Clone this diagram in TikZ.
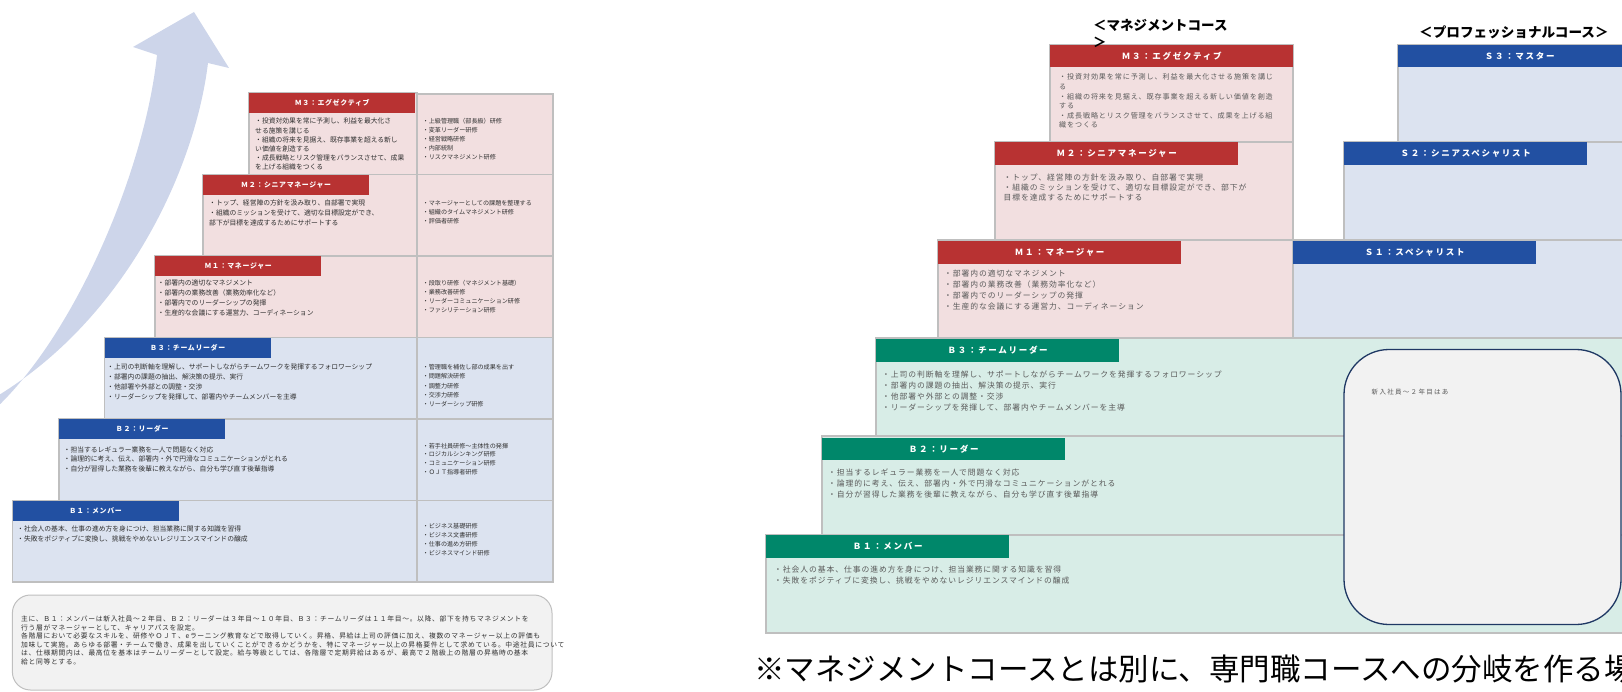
\documentclass[tikz,border=0pt]{standalone}
\usepackage{fontspec}
\setmainfont{Noto Sans CJK JP}
\newfontfamily\jpa[LetterSpace=10]{Noto Sans CJK JP}
\newfontfamily\jpb[LetterSpace=12]{Noto Sans CJK JP}
\newfontfamily\jpc[LetterSpace=20]{Noto Sans CJK JP}
\definecolor{redH}{HTML}{B83232}
\definecolor{pinkB}{HTML}{F2DFE0}
\definecolor{blueH}{HTML}{2250A2}
\definecolor{blueB}{HTML}{DCE3F0}
\definecolor{tealH}{HTML}{00876A}
\definecolor{tealB}{HTML}{D8EDE7}
\definecolor{gridc}{HTML}{BFBFBF}
\definecolor{ltext}{HTML}{303030}
\definecolor{rtext}{HTML}{5A5A5A}
\definecolor{arrowc}{HTML}{CDD5EA}
\definecolor{noteF}{HTML}{F2F2F2}
\definecolor{navy}{HTML}{1F3864}
\tikzset{
 lhd/.style={anchor=north west, inner sep=0pt, minimum width=166pt, minimum height=20pt, text=white, font=\jpa\fontsize{6.9}{8}\selectfont\bfseries},
 rhd/.style={anchor=north west, inner sep=0pt, minimum width=243pt, minimum height=22.5pt, text=white, font=\jpc\fontsize{8.5}{10}\selectfont\bfseries},
 ltx/.style={anchor=north west, inner sep=0pt, align=left, text=ltext},
 rtx/.style={anchor=north west, inner sep=0pt, align=left, text=rtext},
 cell/.style={draw=gridc, line width=1.5pt},
}
\begin{document}
\begin{tikzpicture}[x=1pt,y=-1pt]
\useasboundingbox (0,0) rectangle (1622,692);
% ---------- curved arrow ----------
\fill[arrowc] (-6,410) .. controls (75,335) and (145,170) .. (157,55)
  -- (133,47) -- (194,12) -- (229,68) -- (208,63)
  .. controls (195,170) and (125,320) .. (-6,398) -- cycle;
% ---------- left table ----------
\path[cell,fill=pinkB] (249,93) rectangle (417,174.5);
\path[cell,fill=pinkB] (417,94) rectangle (553,174.5);
\path[cell,fill=pinkB] (203,174.5) rectangle (417,256);
\path[cell,fill=pinkB] (417,174.5) rectangle (553,256);
\path[cell,fill=pinkB] (155,256) rectangle (417,337.5);
\path[cell,fill=pinkB] (417,256) rectangle (553,337.5);
\path[cell,fill=blueB] (104.5,337.5) rectangle (417,419);
\path[cell,fill=blueB] (417,337.5) rectangle (553,419);
\path[cell,fill=blueB] (59,419) rectangle (417,500.5);
\path[cell,fill=blueB] (417,419) rectangle (553,500.5);
\path[cell,fill=blueB] (12.4,500.5) rectangle (417,582);
\path[cell,fill=blueB] (417,500.5) rectangle (553,582);
\node[lhd,fill=redH] (lm3) at (249,93) {Ｍ３：エグゼクティブ};
\node[lhd,fill=redH] (lm2) at (203,174.5) {Ｍ２：シニアマネージャー};
\node[lhd,fill=redH] (lm1) at (155,256) {Ｍ１：マネージャー};
\node[lhd,fill=blueH] (lb3) at (104.5,337.5) {Ｂ３：チームリーダー};
\node[lhd,fill=blueH] (lb2) at (59,419) {Ｂ２：リーダー};
\node[lhd,fill=blueH] (lb1) at (12.4,500.5) {Ｂ１：メンバー};
% left body texts
\node[ltx,font=\fontsize{6.8}{9.1}\selectfont] (lm3t) at (255,118) {・投資対効果を常に予測し、利益を最大化さ\\せる施策を講じる\\・組織の将来を見据え、既存事業を超える新し\\い価値を創造する\\・成長戦略とリスク管理をバランスさせて、成果\\を上げる組織をつくる};
\node[ltx,font=\fontsize{6.1}{9}\selectfont] (lm3r) at (422.5,118.3) {・上級管理職（部長級）研修\\・変革リーダー研修\\・経営戦略研修\\・内部統制\\・リスクマネジメント研修};
\node[ltx,font=\fontsize{6.8}{10}\selectfont] (lm2t) at (209,200) {・トップ、経営陣の方針を汲み取り、自部署で実現\\・組織のミッションを受けて、適切な目標設定ができ、\\部下が目標を達成するためにサポートする};
\node[ltx,font=\fontsize{6.1}{9}\selectfont] (lm2r) at (422.5,200.3) {・マネージャーとしての課題を整理する\\・組織のタイムマネジメント研修\\・評価者研修};
\node[ltx,font=\fontsize{6.8}{10}\selectfont] (lm1t) at (157.5,279.4) {・部署内の適切なマネジメント\\・部署内の業務改善（業務効率化など）\\・部署内でのリーダーシップの発揮\\・生産的な会議にする運営力、コーディネーション};
\node[ltx,font=\fontsize{6.1}{9.2}\selectfont] (lm1r) at (422.5,279.8) {・段取り研修（マネジメント基礎）\\・業務改善研修\\・リーダーコミュニケーション研修\\・ファシリテーション研修};
\node[ltx,font=\fontsize{6.8}{9.8}\selectfont] (lb3t) at (107,364) {・上司の判断軸を理解し、サポートしながらチームワークを発揮するフォロワーシップ\\・部署内の課題の抽出、解決策の提示、実行\\・他部署や外部との調整・交渉\\・リーダーシップを発揮して、部署内やチームメンバーを主導};
\node[ltx,font=\fontsize{6.1}{9.2}\selectfont] (lb3r) at (422.5,364.3) {・管理職を補佐し部の成果を出す\\・問題解決研修\\・調整力研修\\・交渉力研修\\・リーダーシップ研修};
\node[ltx,font=\fontsize{6.8}{9.4}\selectfont] (lb2t) at (63.5,446.4) {・担当するレギュラー業務を一人で問題なく対応\\・論理的に考え、伝え、部署内・外で円滑なコミュニケーションがとれる\\・自分が習得した業務を後輩に教えながら、自分も学び直す後輩指導};
\node[ltx,font=\fontsize{6.1}{8.7}\selectfont] (lb2r) at (422.5,442.8) {・若手社員研修～主体性の発揮\\・ロジカルシンキング研修\\・コミュニケーション研修\\・ＯＪＴ指導者研修};
\node[ltx,font=\fontsize{6.8}{9.7}\selectfont] (lb1t) at (17,526) {・社会人の基本、仕事の進め方を身につけ、担当業務に関する知識を習得\\・失敗をポジティブに変換し、挑戦をやめないレジリエンスマインドの醸成};
\node[ltx,font=\fontsize{6.1}{9}\selectfont] (lb1r) at (422.5,523.3) {・ビジネス基礎研修\\・ビジネス文書研修\\・仕事の進め方研修\\・ビジネスマインド研修};
% note box
\path[draw=gridc,line width=1pt,fill=noteF,rounded corners=18pt] (12.4,595) rectangle (552,690);
\node[ltx,font=\jpa\fontsize{6.8}{8.5}\selectfont] (note) at (21,616) {主に、Ｂ１：メンバーは新入社員～２年目、Ｂ２：リーダーは３年目～１０年目、Ｂ３：チームリーダは１１年目～。以降、部下を持ちマネジメントを\\行う層がマネージャーとして、キャリアパスを設定。\\各階層において必要なスキルを、研修やＯＪＴ、eラーニング教育などで取得していく。昇格、昇給は上司の評価に加え、複数のマネージャー以上の評価も\\加味して実施。あらゆる部署・チームで働き、成果を出していくことができるかどうかを、特にマネージャー以上の昇格要件として求めている。中途社員について\\は、仕様期間内は、最高位を基本はチームリーダーとして設定。給与等級としては、各階層で定期昇給はあるが、最高で２階級上の階層の昇格時の基本\\給と同等とする。};
% ---------- right diagram ----------
\path[cell,fill=pinkB] (1050,44.5) rectangle (1293,142);
\path[cell,fill=pinkB] (995,142) rectangle (1293,240);
\path[cell,fill=pinkB] (938,240) rectangle (1293,338);
\path[cell,fill=blueB] (1398,44.5) rectangle (1640,142);
\path[cell,fill=blueB] (1344,142) rectangle (1640,240);
\path[cell,fill=blueB] (1293,240) rectangle (1640,338);
\path[cell,fill=tealB] (876,338) rectangle (1640,436);
\path[cell,fill=tealB] (822,436) rectangle (1640,535);
\path[cell,fill=tealB] (766,535) rectangle (1640,633);
\node[rhd,fill=redH] (rm3) at (1050,44.5) {Ｍ３：エグゼクティブ};
\node[rhd,fill=redH] (rm2) at (995,142) {Ｍ２：シニアマネージャー};
\node[rhd,fill=redH] (rm1) at (938,241) {Ｍ１：マネージャー};
\node[rhd,fill=blueH] (rs3) at (1398,44.5) {Ｓ３：マスター};
\node[rhd,fill=blueH] (rs2) at (1344,142) {Ｓ２：シニアスペシャリスト};
\node[rhd,fill=blueH] (rs1) at (1293,241) {Ｓ１：スペシャリスト};
\node[rhd,fill=tealH] (rb3) at (876,339) {Ｂ３：チームリーダー};
\node[rhd,fill=tealH] (rb2) at (822,437.5) {Ｂ２：リーダー};
\node[rhd,fill=tealH] (rb1) at (766,535) {Ｂ１：メンバー};
\node[rtx,font=\jpb\fontsize{7.1}{9.6}\selectfont] (rm3t) at (1059,73.8) {・投資対効果を常に予測し、利益を最大化させる施策を講じ\\る\\・組織の将来を見据え、既存事業を超える新しい価値を創造\\する\\・成長戦略とリスク管理をバランスさせて、成果を上げる組\\織をつくる};
\node[rtx,font=\jpb\fontsize{7.8}{10.3}\selectfont] (rm2t) at (1003.5,173.5) {・トップ、経営陣の方針を汲み取り、自部署で実現\\・組織のミッションを受けて、適切な目標設定ができ、部下が\\目標を達成するためにサポートする};
\node[rtx,font=\jpb\fontsize{7.8}{10.9}\selectfont] (rm1t) at (944,269.8) {・部署内の適切なマネジメント\\・部署内の業務改善（業務効率化など）\\・部署内でのリーダーシップの発揮\\・生産的な会議にする運営力、コーディネーション};
\node[rtx,font=\jpb\fontsize{7.8}{10.8}\selectfont] (rb3t) at (882,370.8) {・上司の判断軸を理解し、サポートしながらチームワークを発揮するフォロワーシップ\\・部署内の課題の抽出、解決策の提示、実行\\・他部署や外部との調整・交渉\\・リーダーシップを発揮して、部署内やチームメンバーを主導};
\node[rtx,font=\jpb\fontsize{7.8}{10.7}\selectfont] (rb2t) at (828,469) {・担当するレギュラー業務を一人で問題なく対応\\・論理的に考え、伝え、部署内・外で円滑なコミュニケーションがとれる\\・自分が習得した業務を後輩に教えながら、自分も学び直す後輩指導};
\node[rtx,font=\jpb\fontsize{7.8}{10.7}\selectfont] (rb1t) at (774,566) {・社会人の基本、仕事の進め方を身につけ、担当業務に関する知識を習得\\・失敗をポジティブに変換し、挑戦をやめないレジリエンスマインドの醸成};
% rounded box
\path[draw=navy,line width=1.3pt,fill=noteF,rounded corners=45pt] (1344,349.5) rectangle (1621,624.5);
\node[anchor=west,inner sep=0pt,text=rtext,font=\jpc\fontsize{6.5}{8}\selectfont] (newbie) at (1371.5,392) {新入社員～２年目はあ};
% titles
\node[anchor=north west,inner sep=0pt,align=left,font=\fontsize{13.5}{17}\selectfont\bfseries] (tmgmt) at (1093,19) {＜マネジメントコース\\＞};
\node[anchor=west,inner sep=0pt,font=\fontsize{13.6}{16}\selectfont\bfseries] (tprof) at (1419,32) {＜プロフェッショナルコース＞};
% bottom note (cut at the right edge as in the reference)
\node[anchor=base west,inner sep=0pt,font=\fontsize{30.5}{34}\selectfont] (bottom) at (754,680) {※マネジメントコースとは別に、専門職コースへの分岐を作る場};
\end{tikzpicture}
\end{document}
